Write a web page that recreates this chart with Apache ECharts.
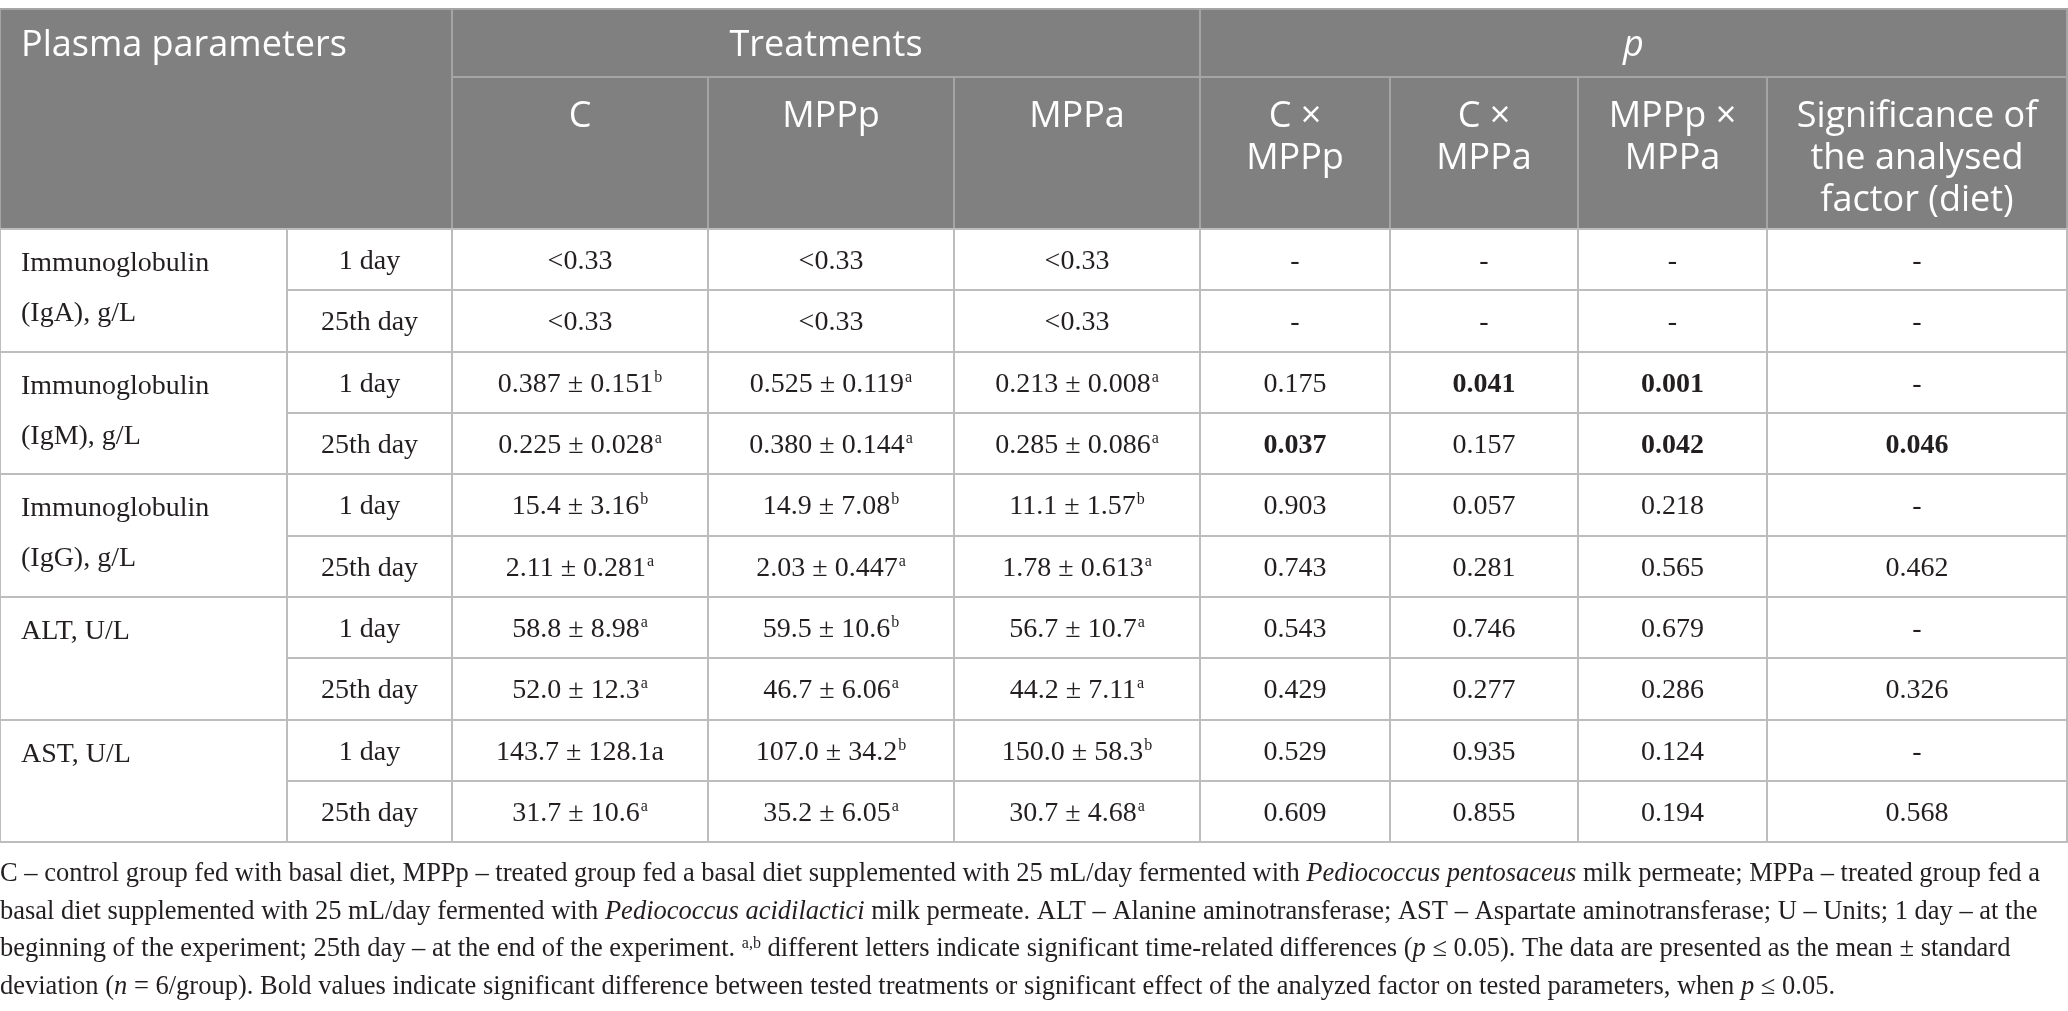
<!DOCTYPE html>
<html>
<head>
<meta charset="utf-8">
<script src="https://cdn.jsdelivr.net/npm/echarts@6/dist/echarts.min.js"></script>
<style>
  html, body { margin: 0; padding: 0; background: #fff; }
  #main { width: 2068px; height: 1011px; }
</style>
</head>
<body>
<div id="main"></div>
<script>
// table content
var params = ['Immunoglobulin\n(IgA), g/L', 'Immunoglobulin\n(IgM), g/L', 'Immunoglobulin\n(IgG), g/L', 'ALT, U/L', 'AST, U/L'];
var days = ['1 day', '25th day'];
var treatments = ['C', 'MPPp', 'MPPa'];
var pColumns = ['C \u00d7\nMPPp', 'C \u00d7\nMPPa', 'MPPp \u00d7\nMPPa', 'Significance of\nthe analysed\nfactor (diet)'];

var valC = ['<0.33', '<0.33', '0.387 \u00b1 0.151', '0.225 \u00b1 0.028', '15.4 \u00b1 3.16', '2.11 \u00b1 0.281', '58.8 \u00b1 8.98', '52.0 \u00b1 12.3', '143.7 \u00b1 128.1a', '31.7 \u00b1 10.6'];
var supC = ['', '', 'b', 'a', 'b', 'a', 'a', 'a', '', 'a'];
var valMPPp = ['<0.33', '<0.33', '0.525 \u00b1 0.119', '0.380 \u00b1 0.144', '14.9 \u00b1 7.08', '2.03 \u00b1 0.447', '59.5 \u00b1 10.6', '46.7 \u00b1 6.06', '107.0 \u00b1 34.2', '35.2 \u00b1 6.05'];
var supMPPp = ['', '', 'a', 'a', 'b', 'a', 'b', 'a', 'b', 'a'];
var valMPPa = ['<0.33', '<0.33', '0.213 \u00b1 0.008', '0.285 \u00b1 0.086', '11.1 \u00b1 1.57', '1.78 \u00b1 0.613', '56.7 \u00b1 10.7', '44.2 \u00b1 7.11', '150.0 \u00b1 58.3', '30.7 \u00b1 4.68'];
var supMPPa = ['', '', 'a', 'a', 'b', 'a', 'a', 'a', 'b', 'a'];

var pCxMPPp = ['-', '-', '0.175', '0.037', '0.903', '0.743', '0.543', '0.429', '0.529', '0.609'];
var pCxMPPa = ['-', '-', '0.041', '0.157', '0.057', '0.281', '0.746', '0.277', '0.935', '0.855'];
var pMPPpxMPPa = ['-', '-', '0.001', '0.042', '0.218', '0.565', '0.679', '0.286', '0.124', '0.194'];
var pDiet = ['-', '-', '-', '0.046', '-', '0.462', '-', '0.326', '-', '0.568'];

var captionLines = [
  'C \u2013 control group fed with basal diet, MPPp \u2013 treated group fed a basal diet supplemented with 25 mL/day fermented with {i|Pediococcus pentosaceus} milk permeate; MPPa \u2013 treated group fed a',
  'basal diet supplemented with 25 mL/day fermented with {i|Pediococcus acidilactici} milk permeate. ALT \u2013 Alanine aminotransferase; AST \u2013 Aspartate aminotransferase; U \u2013 Units; 1 day \u2013 at the',
  'beginning of the experiment; 25th day \u2013 at the end of the experiment. {sup|a,b} different letters indicate significant time-related differences ({i|p} \u2264 0.05). The data are presented as the mean \u00b1 standard',
  'deviation ({i|n} = 6/group). Bold values indicate significant difference between tested treatments or significant effect of the analyzed factor on tested parameters, when {i|p} \u2264 0.05.'
];

// layout (table units = px)
var colEdges = [0, 287, 452, 708, 954, 1200, 1390, 1578, 1767, 2067];
var rowEdges = [9, 77, 229, 290, 352, 413, 474, 536, 597, 658, 720, 781, 842];

var HEAD_FONT = 'Open Sans';
var BODY_FONT = 'Liberation Serif';
var HEAD_BG = '#7f807f';
var TEXT = '#231f20';
var CAP_SIZE = 26.5;

var cells = [];
function addCell(c0, c1, r0, r1, o) {
  o.c = [c0, c1, r0, r1];
  cells.push(o);
}

// header
addCell(0, 2, 0, 2, { head: true, text: 'Plasma parameters', pos: 'leftTopLine' });
addCell(2, 5, 0, 1, { head: true, text: 'Treatments', pos: 'center' });
addCell(5, 9, 0, 1, { head: true, text: 'p', italic: true, pos: 'center' });
treatments.concat(pColumns).forEach(function (t, i) {
  addCell(2 + i, 3 + i, 1, 2, { head: true, text: t, pos: 'top' });
});

// body
var treatVals = [[valC, supC], [valMPPp, supMPPp], [valMPPa, supMPPa]];
var pVals = [pCxMPPp, pCxMPPa, pMPPpxMPPa, pDiet];
params.forEach(function (p, k) {
  addCell(0, 1, 2 + 2 * k, 4 + 2 * k, { text: p, pos: 'left' });
});
for (var i = 0; i < valC.length; i++) {
  addCell(1, 2, 2 + i, 3 + i, { text: days[i % 2], pos: 'center' });
  treatVals.forEach(function (tv, j) {
    var s = tv[0][i];
    var sup = tv[1][i];
    addCell(2 + j, 3 + j, 2 + i, 3 + i, { text: '{v|' + s + '}' + (sup ? '{sup|' + sup + '}' : ''), pos: 'center', rich: true });
  });
  pVals.forEach(function (col, j) {
    var v = col[i];
    addCell(5 + j, 6 + j, 2 + i, 3 + i, { text: v, pos: 'center', bold: v !== '-' && parseFloat(v) <= 0.05 });
  });
}

var bodyRich = {
  v: { fontFamily: BODY_FONT, fontSize: 28, lineHeight: 32, color: TEXT, verticalAlign: 'middle' },
  sup: { fontFamily: BODY_FONT, fontSize: 16, lineHeight: 16, color: TEXT, verticalAlign: 'top', padding: [1, 0, 0, 1] }
};

function renderCell(params, api) {
  var cell = cells[params.dataIndex];
  var p0 = api.coord([colEdges[api.value(0)], rowEdges[api.value(2)]]);
  var p1 = api.coord([colEdges[api.value(1)], rowEdges[api.value(3)]]);
  var w = p1[0] - p0[0], h = p1[1] - p0[1];
  var head = !!cell.head;
  var style = {
    text: cell.text,
    fill: head ? '#ffffff' : TEXT,
    fontFamily: head ? HEAD_FONT : BODY_FONT,
    fontSize: head ? 36 : 28,
    fontWeight: cell.bold ? 'bold' : 'normal',
    fontStyle: cell.italic ? 'italic' : 'normal'
  };
  if (cell.rich) style.rich = bodyRich;
  if (cell.pos === 'center') {
    style.x = p0[0] + w / 2; style.y = p0[1] + h / 2 + (head ? 3 : 2);
    style.align = 'center'; style.verticalAlign = 'middle';
  } else if (cell.pos === 'top') {
    style.x = p0[0] + w / 2; style.y = p0[1] + 19;
    style.align = 'center'; style.verticalAlign = 'top';
    style.lineHeight = 42;
  } else if (cell.pos === 'leftTopLine') {
    style.x = p0[0] + 21; style.y = (rowEdges[0] + rowEdges[1]) / 2 + 3;
    style.align = 'left'; style.verticalAlign = 'middle';
  } else {
    style.x = p0[0] + 21; style.y = p0[1] + 10;
    style.align = 'left'; style.verticalAlign = 'top';
    style.lineHeight = 50;
  }
  return {
    type: 'group',
    children: [
      {
        type: 'rect',
        shape: { x: p0[0], y: p0[1], width: w, height: h },
        style: { fill: head ? HEAD_BG : '#ffffff', stroke: head ? '#a4a5a4' : '#bdbdbd', lineWidth: 2 }
      },
      { type: 'text', style: style }
    ]
  };
}

var chartDom = document.getElementById('main');
var myChart = echarts.init(chartDom);

var captionRich = {
  i: { fontFamily: BODY_FONT, fontSize: CAP_SIZE, fontStyle: 'italic', color: TEXT },
  sup: { fontFamily: BODY_FONT, fontSize: 16, color: TEXT, verticalAlign: 'top', lineHeight: 16 }
};

var option = {
  animation: false,
  grid: { left: 0, right: 0, top: 0, bottom: 0 },
  xAxis: { type: 'value', min: 0, max: 2068, show: false },
  yAxis: { type: 'value', min: 0, max: 1011, inverse: true, show: false },
  graphic: captionLines.map(function (line, i) {
    return {
      type: 'text',
      left: 0,
      top: 861 + i * 37.4,
      style: {
        text: line,
        fontFamily: BODY_FONT,
        fontSize: CAP_SIZE,
        fill: TEXT,
        rich: captionRich
      }
    };
  }),
  series: [{
    type: 'custom',
    clip: false,
    silent: true,
    renderItem: renderCell,
    encode: { x: 0, y: 2 },
    data: cells.map(function (c) { return c.c; })
  }]
};

option && myChart.setOption(option);
</script>
</body>
</html>
